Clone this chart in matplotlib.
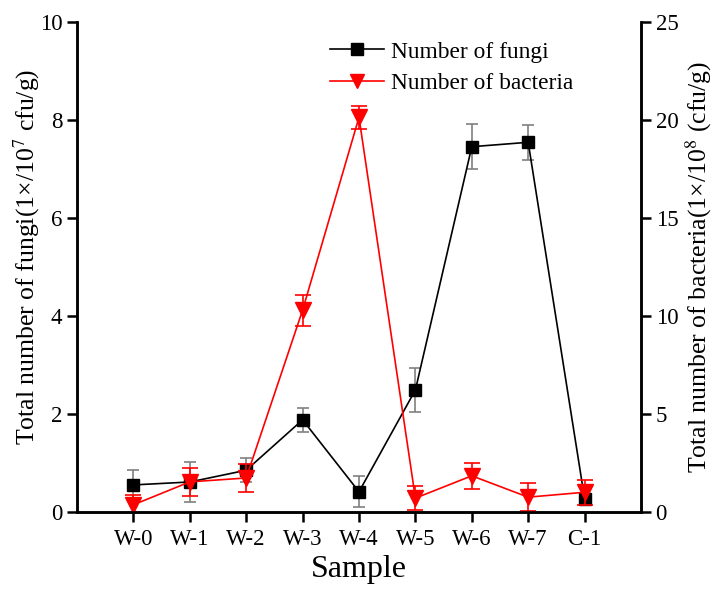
import matplotlib.pyplot as plt
from matplotlib.lines import Line2D

plt.rcParams['font.family'] = ['Liberation Serif', 'DejaVu Serif']
plt.rcParams['mathtext.fontset'] = 'stix'

samples = ["W-0", "W-1", "W-2", "W-3", "W-4", "W-5", "W-6", "W-7", "C-1"]
fungi = [0.55, 0.61, 0.85, 1.88, 0.41, 2.49, 7.46, 7.55, 0.27]
fungi_err = [0.30, 0.40, 0.25, 0.24, 0.32, 0.45, 0.46, 0.36, 0.06]
bacteria = [0.36, 1.53, 1.73, 10.3, 20.15, 0.70, 1.84, 0.75, 1.00]
bacteria_err = [0.50, 0.70, 0.72, 0.80, 0.60, 0.60, 0.68, 0.70, 0.65]

x = list(range(1, len(samples) + 1))

fig, ax = plt.subplots(figsize=(7.13, 5.89), dpi=100)
fig.subplots_adjust(left=0.108, right=0.899, top=0.962, bottom=0.131)

ax.errorbar(x, fungi, yerr=fungi_err, color='black', marker='s', markersize=9,
            linewidth=1.2, ecolor='#808080', elinewidth=1.2, capsize=4.5,
            capthick=1.2)
ax.set_xlim(0, 10)
ax.set_ylim(0, 10)
ax.set_xticks(x)
ax.set_xticklabels(samples)
ax.set_yticks([0, 2, 4, 6, 8, 10])
ax.set_xlabel("Sample", fontsize=23, labelpad=4)
ax.set_ylabel(r"Total number of fungi(1×/10$^{7}$ cfu/g)", fontsize=18.5)
ax.yaxis.set_label_coords(-0.062, 0.52)

ax2 = ax.twinx()
ax2.errorbar(x, bacteria, yerr=bacteria_err, color='red', marker='v', markersize=11,
             linewidth=1.2, ecolor='red', elinewidth=1.2, capsize=5.5,
             capthick=1.2)
ax2.set_ylim(0, 25)
ax2.set_yticks([0, 5, 10, 15, 20, 25])
ax2.set_ylabel(r"Total number of bacteria(1×/10$^{8}$ (cfu/g)", fontsize=18.5, labelpad=4)

for a in (ax, ax2):
    for s in a.spines.values():
        s.set_linewidth(1.8)
    a.spines['top'].set_visible(False)
    a.tick_params(direction='out', length=7, width=1.8, labelsize=16.5)
ax.tick_params(axis='x', pad=5)

# legend handles without the error bars
h1 = Line2D([], [], color='black', marker='s', markersize=8, linewidth=1.2)
h2 = Line2D([], [], color='red', marker='v', markersize=10, linewidth=1.2)
ax2.legend([h1, h2], ['Number of fungi', 'Number of bacteria'], loc='upper left',
           bbox_to_anchor=(0.463, 0.93), bbox_transform=fig.transFigure,
           frameon=False, fontsize=16.8, handlelength=2.3, handletextpad=0.3,
           labelspacing=0.45, borderpad=0.0, borderaxespad=0.0)

plt.savefig("out.png", dpi=100)
